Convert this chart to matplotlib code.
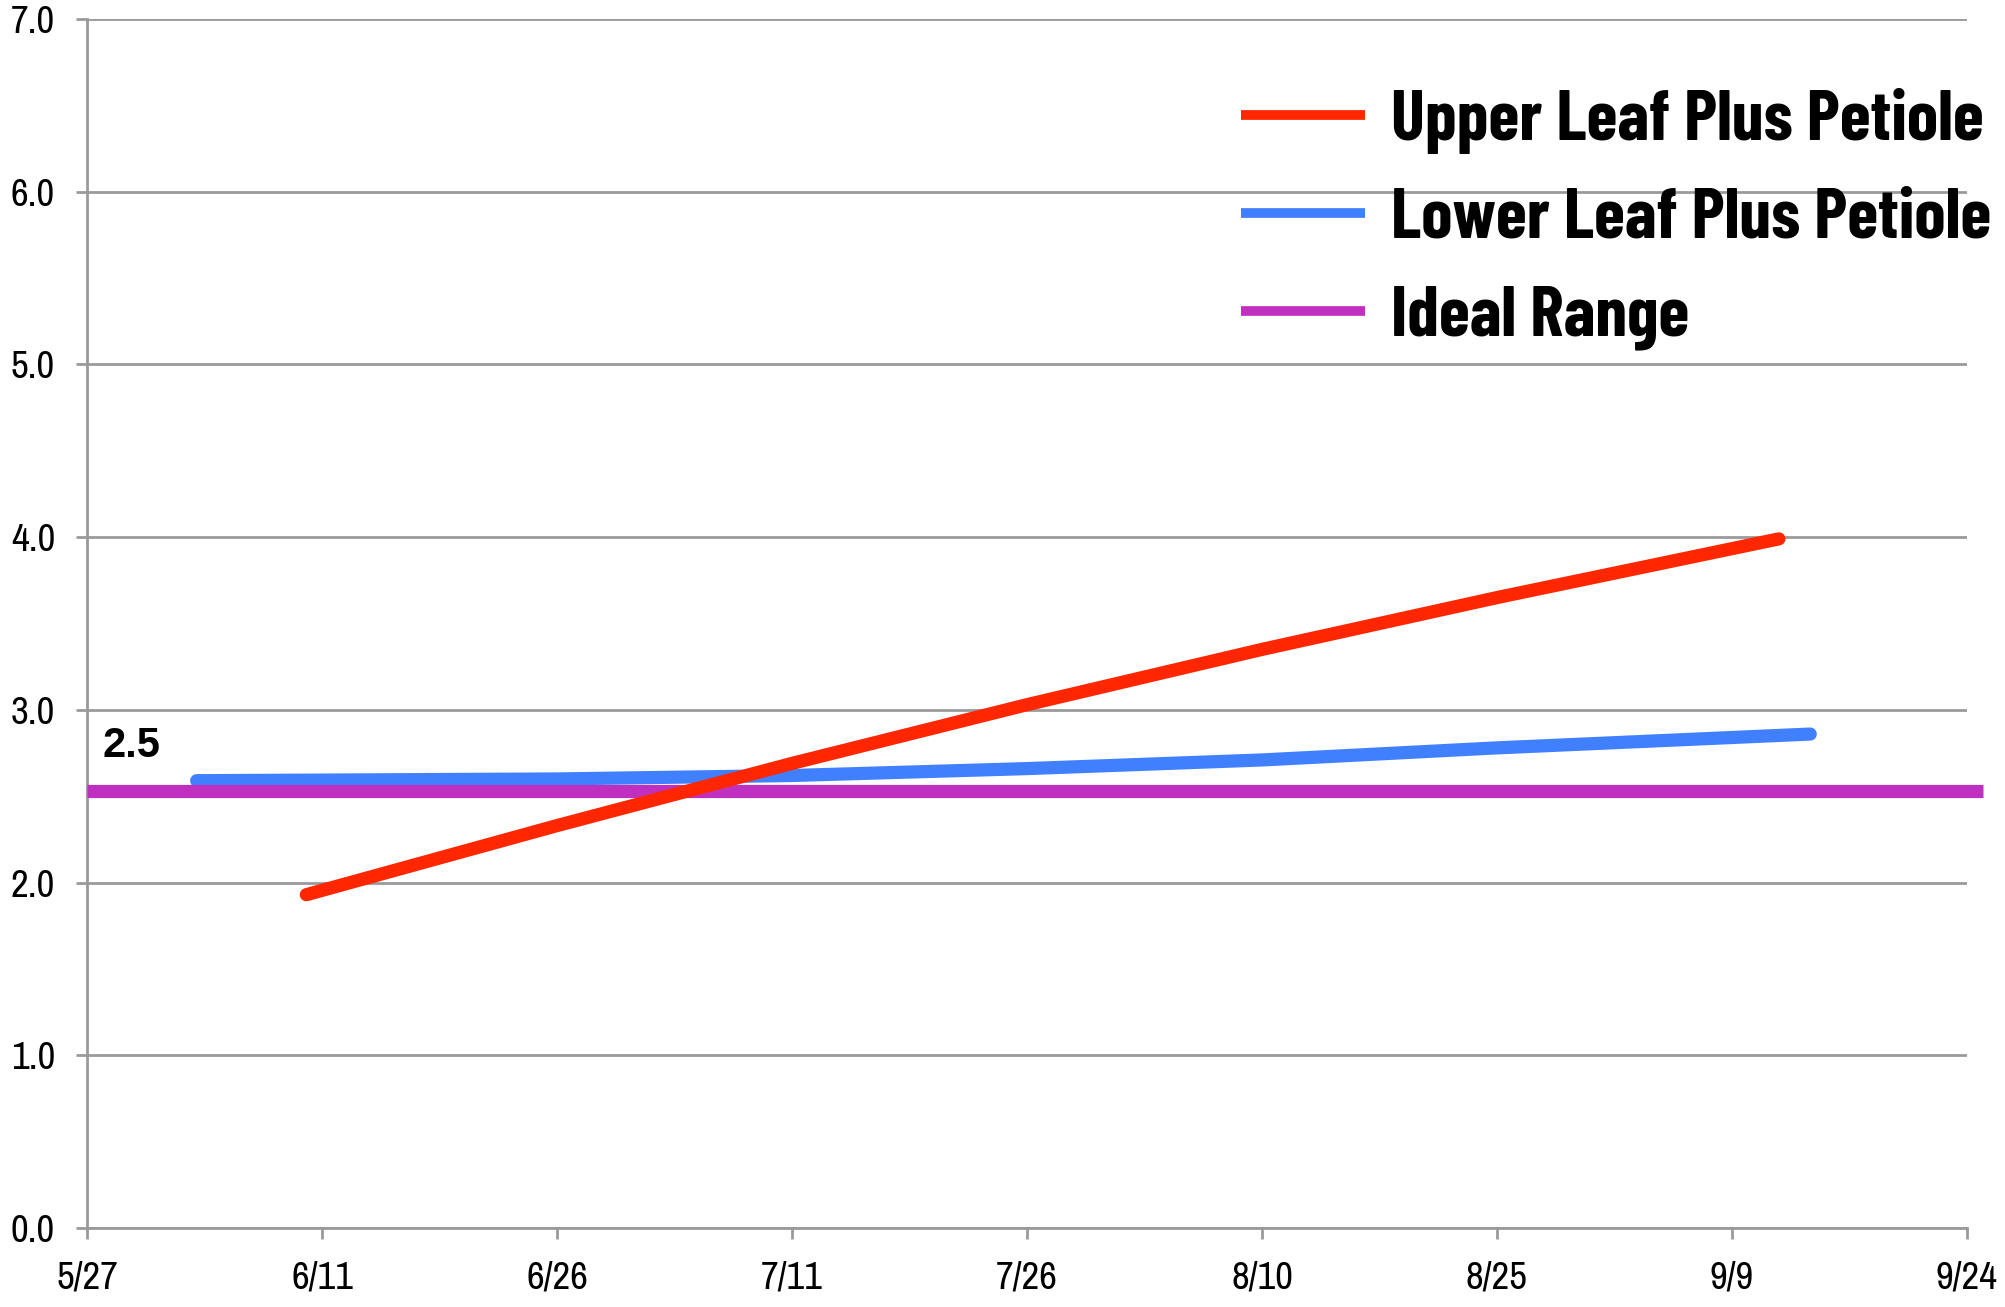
import datetime as dt
import matplotlib
matplotlib.use("Agg")
import matplotlib.pyplot as plt
import matplotlib.dates as mdates

# data (season 2013 assumed, only month/day shown)
upper_dates = ["6/10", "6/26", "7/11", "7/26", "8/10", "8/25", "9/12"]
upper_vals = [1.93, 2.33, 2.69, 3.03, 3.35, 3.65, 3.99]
lower_dates = ["6/3", "6/26", "7/11", "7/26", "8/10", "8/25", "9/14"]
lower_vals = [2.59, 2.60, 2.62, 2.66, 2.71, 2.78, 2.86]
ideal_dates = ["5/27", "9/25"]
ideal_vals = [2.53, 2.53]
tick_dates = ["5/27", "6/11", "6/26", "7/11", "7/26", "8/10", "8/25", "9/9", "9/24"]
y_ticks = [0, 1, 2, 3, 4, 5, 6, 7]
labels = ["Upper Leaf Plus Petiole", "Lower Leaf Plus Petiole", "Ideal Range"]

def to_date(s):
    m, d = s.split("/")
    return dt.date(2013, int(m), int(d))

def dates(lst):
    return [to_date(s) for s in lst]

tick_font = ["Archivo Narrow", "DejaVu Sans"]
legend_font = ["Barlow Condensed", "DejaVu Sans"]
grid_col = "#9a9a9a"

fig = plt.figure(figsize=(20.05, 13.07), dpi=100)
ax = fig.add_axes([0.0434, 0.0604, 0.981 - 0.0434, 0.9855 - 0.0604])

l_blue, = ax.plot(dates(lower_dates), lower_vals, color="#4080ff", lw=9.5,
                  solid_capstyle="round", zorder=3)
l_purp, = ax.plot(dates(ideal_dates), ideal_vals, color="#c030c0", lw=9.5,
                  solid_capstyle="butt", zorder=4, clip_on=False)
l_red, = ax.plot(dates(upper_dates), upper_vals, color="#ff2600", lw=9.5,
                 solid_capstyle="round", zorder=5)

ax.set_xlim(to_date("5/27"), to_date("9/24"))
ax.set_ylim(0, 7)
ax.set_xticks(dates(tick_dates))
ax.xaxis.set_major_formatter(matplotlib.ticker.FuncFormatter(
    lambda v, p: "%d/%d" % (mdates.num2date(v).month, mdates.num2date(v).day)))
ax.set_yticks(y_ticks)
ax.set_yticklabels(["%.1f" % v for v in y_ticks])

ax.grid(axis="y", color=grid_col, lw=2)
ax.set_axisbelow(True)
for s in ["top", "right"]:
    ax.spines[s].set_visible(False)
for s in ["left", "bottom"]:
    ax.spines[s].set_color(grid_col)
    ax.spines[s].set_linewidth(2)
ax.tick_params(axis="both", color=grid_col, width=2, length=8, direction="out")
ax.tick_params(axis="x", pad=15)
ax.tick_params(axis="y", pad=15)
for t in ax.get_xticklabels() + ax.get_yticklabels():
    t.set_fontfamily(tick_font)
    t.set_fontsize(28)

ax.text(to_date("5/28"), 2.79, "2.5", fontsize=30, fontweight="bold",
        family=["Liberation Sans", "DejaVu Sans"], va="center", ha="left")

leg = ax.legend([l_red, l_blue, l_purp], labels, loc="upper left",
                bbox_to_anchor=(0.619, 0.933), bbox_transform=fig.transFigure,
                frameon=False, borderpad=0, borderaxespad=0,
                handlelength=1.75, handletextpad=0.37, labelspacing=0.48,
                prop={"family": legend_font, "weight": "bold", "size": 51})
for h in leg.get_lines():
    h.set_linewidth(7)
    h.set_solid_capstyle("butt")

fig.savefig("out.png", dpi=100)
